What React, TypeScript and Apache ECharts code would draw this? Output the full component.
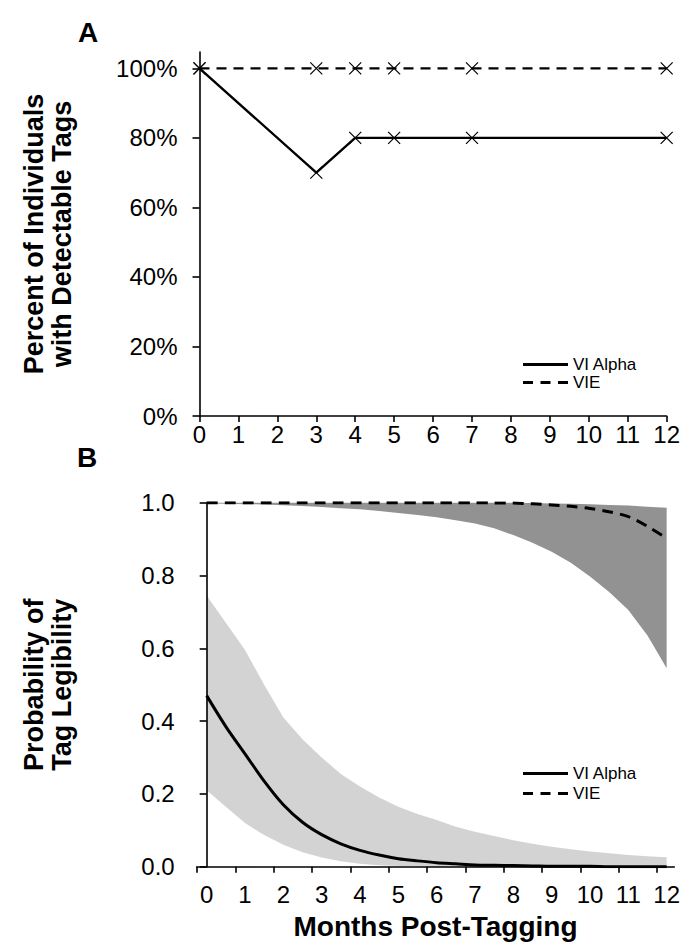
import React, { useEffect, useRef } from "react";
import * as echarts from "echarts";

// ---------- Panel A data ----------
const topMonths = [0, 3, 4, 5, 7, 12];
const topViAlpha = [100, 70, 80, 80, 80, 80];
const topVie = [100, 100, 100, 100, 100, 100];
const topYTicks = [0, 20, 40, 60, 80, 100];
const monthLabels = [0, 1, 2, 3, 4, 5, 6, 7, 8, 9, 10, 11, 12];

// ---------- Panel B data ----------
const months = [0, 0.5, 1, 1.5, 2, 2.5, 3, 3.5, 4, 4.5, 5, 5.5, 6, 6.5, 7, 7.5, 8, 8.5, 9, 9.5, 10, 10.5, 11, 11.5, 12];
const viAlphaMean = [0.47, 0.385, 0.31, 0.235, 0.17, 0.122, 0.088, 0.063, 0.045, 0.032, 0.022, 0.016, 0.011, 0.008, 0.005, 0.004, 0.003, 0.002, 0.001, 0.001, 0.001, 0, 0, 0, 0];
const viAlphaUpper = [0.745, 0.67, 0.595, 0.5, 0.41, 0.35, 0.3, 0.255, 0.22, 0.19, 0.165, 0.145, 0.128, 0.11, 0.096, 0.084, 0.073, 0.063, 0.055, 0.048, 0.042, 0.037, 0.032, 0.029, 0.026];
const viAlphaLower = [0.21, 0.165, 0.12, 0.087, 0.06, 0.04, 0.025, 0.015, 0.008, 0.004, 0.002, 0.001, 0, 0, 0, 0, 0, 0, 0, 0, 0, 0, 0, 0, 0];
const vieMean = [1, 1, 1, 1, 1, 1, 1, 1, 1, 1, 1, 1, 1, 1, 1, 0.9995, 0.999, 0.997, 0.994, 0.99, 0.984, 0.975, 0.962, 0.935, 0.902];
const vieUpper = [1, 1, 1, 1, 1, 1, 1, 1, 1, 1, 1, 1, 1, 1, 1, 1, 1, 0.999, 0.998, 0.997, 0.996, 0.994, 0.992, 0.989, 0.986];
const vieLower = [0.998, 0.997, 0.996, 0.995, 0.993, 0.991, 0.988, 0.985, 0.982, 0.977, 0.972, 0.966, 0.96, 0.952, 0.943, 0.93, 0.911, 0.89, 0.865, 0.835, 0.797, 0.755, 0.705, 0.635, 0.545];
const bTickPositions = [-0.25, 0.75, 1.75, 2.75, 3.75, 4.75, 5.75, 6.75, 7.75, 8.75, 9.75, 10.75, 11.75];

const FONT = '"Liberation Sans", Arial, Helvetica, sans-serif';
const crossSymbol = "path://M0,0L10,10M10,0L0,10";
const dashIcon = "path://M0,0h10v3h-10zM17.5,0h10v3h-10zM35,0h10v3h-10z";
const solidIcon = "path://M0,0h45v3h-45z";

const pairs = (xs: number[], ys: number[]) => xs.map((x, i) => [x, ys[i]]);

function bandSeries(name: string, upper: number[], lower: number[], color: string) {
  return {
    name, type: "custom", xAxisIndex: 1, yAxisIndex: 1, silent: true, z: 2,
    data: pairs(months, upper),
    encode: { x: 0, y: 1 },
    renderItem: (params: any, api: any) => {
      if (params.dataIndex !== 0) return null;
      const top = months.map((x, i) => api.coord([x, upper[i]]));
      const bot = months.map((x, i) => api.coord([x, lower[i]])).reverse();
      return { type: "polygon", shape: { points: top.concat(bot) }, style: { fill: color } };
    },
  };
}

export default function App() {
  const ref = useRef<HTMLDivElement>(null);
  useEffect(() => {
    document.body.style.margin = "0";
    const chart = echarts.init(ref.current!, undefined, { renderer: "svg" });
    const axisLine = { show: true, lineStyle: { color: "#000", width: 1.6 } };
    const tick = { show: true, length: 7, lineStyle: { color: "#000", width: 1.6 } };
    const labelStyle = { color: "#000", fontSize: 24, fontFamily: FONT };
    const legendText = { color: "#000", fontSize: 17, fontFamily: FONT, lineHeight: 17 };
    const legendData = [
      { name: "VI Alpha", icon: solidIcon, itemStyle: { color: "#000", borderWidth: 0 } },
      { name: "VIE", icon: dashIcon, itemStyle: { color: "#000", borderWidth: 0 } },
    ];

    const option: any = {
      animation: false,
      backgroundColor: "#fff",
      grid: [
        { left: 199.5, top: 52, width: 468.5, height: 364 },
        { left: 196.7, top: 502.7, width: 478.6, height: 364 },
      ],
      xAxis: [
        {
          gridIndex: 0, type: "value", min: 0, max: 12, interval: 1,
          axisLine, axisTick: { ...tick, length: 6 }, splitLine: { show: false },
          axisLabel: { ...labelStyle, margin: 6 },
        },
        {
          gridIndex: 1, type: "value", min: -0.26, max: 12.2, z: 10,
          axisLine, splitLine: { show: false },
          axisTick: { ...tick, length: 6, customValues: bTickPositions },
          axisLabel: { ...labelStyle, margin: 16, customValues: monthLabels },
          name: "Months Post-Tagging", nameLocation: "middle", nameGap: 46,
          nameTextStyle: { color: "#000", fontSize: 28, fontWeight: "bold", fontFamily: FONT },
        },
      ],
      yAxis: [
        {
          gridIndex: 0, type: "value", min: 0, max: 104.7,
          axisLine, splitLine: { show: false },
          axisTick: { ...tick, customValues: topYTicks },
          axisLabel: { ...labelStyle, margin: 22, customValues: topYTicks, formatter: (v: number) => v + "%" },
          name: "Percent of Individuals\nwith Detectable Tags", nameLocation: "middle", nameGap: 124,
          nameTextStyle: { color: "#000", fontSize: 27, fontWeight: "bold", fontFamily: FONT, lineHeight: 28 },
        },
        {
          gridIndex: 1, type: "value", min: 0, max: 1, interval: 0.2, z: 10,
          axisLine, splitLine: { show: false },
          axisTick: tick,
          axisLabel: { ...labelStyle, margin: 22, formatter: (v: number) => v.toFixed(1) },
          name: "Probability of\nTag Legibility", nameLocation: "middle", nameGap: 121,
          nameTextStyle: { color: "#000", fontSize: 27, fontWeight: "bold", fontFamily: FONT, lineHeight: 28 },
        },
      ],
      legend: [
        {
          orient: "vertical", left: 518, top: 351, itemWidth: 45, itemHeight: 3, itemGap: 1,
          textStyle: legendText, data: legendData,
        },
        {
          orient: "vertical", left: 518, top: 760, itemWidth: 45, itemHeight: 3, itemGap: 3,
          textStyle: legendText, data: legendData,
        },
      ],
      graphic: [
        { type: "text", left: 78, top: 18, style: { text: "A", font: `bold 28px ${FONT}`, fill: "#000" } },
        { type: "text", left: 77, top: 443, style: { text: "B", font: `bold 28px ${FONT}`, fill: "#000" } },
      ],
      series: [
        // Panel A
        {
          name: "VIE", type: "line", xAxisIndex: 0, yAxisIndex: 0,
          data: pairs(topMonths, topVie),
          symbol: crossSymbol, symbolSize: 12,
          itemStyle: { color: "#000", borderColor: "#000", borderWidth: 1.2 },
          lineStyle: { color: "#000", width: 2.4, type: [10, 7] },
        },
        {
          name: "VI Alpha", type: "line", xAxisIndex: 0, yAxisIndex: 0,
          data: pairs(topMonths, topViAlpha),
          symbol: crossSymbol, symbolSize: 12,
          itemStyle: { color: "#000", borderColor: "#000", borderWidth: 1.2 },
          lineStyle: { color: "#000", width: 2.4 },
        },
        // Panel B confidence bands
        bandSeries("VIE interval", vieUpper, vieLower, "#929292"),
        bandSeries("VI Alpha interval", viAlphaUpper, viAlphaLower, "#d3d3d3"),
        // Panel B lines
        {
          name: "VIE", type: "line", xAxisIndex: 1, yAxisIndex: 1,
          data: pairs(months, vieMean), symbol: "none", smooth: 0.3,
          lineStyle: { color: "#000", width: 3, type: [11, 7] }, z: 5,
        },
        {
          name: "VI Alpha", type: "line", xAxisIndex: 1, yAxisIndex: 1,
          data: pairs(months, viAlphaMean), symbol: "none", smooth: 0.3,
          lineStyle: { color: "#000", width: 3 }, z: 5,
        },
      ],
    };
    chart.setOption(option);
    return () => chart.dispose();
  }, []);
  return <div ref={ref} style={{ width: 683, height: 946 }} />;
}
